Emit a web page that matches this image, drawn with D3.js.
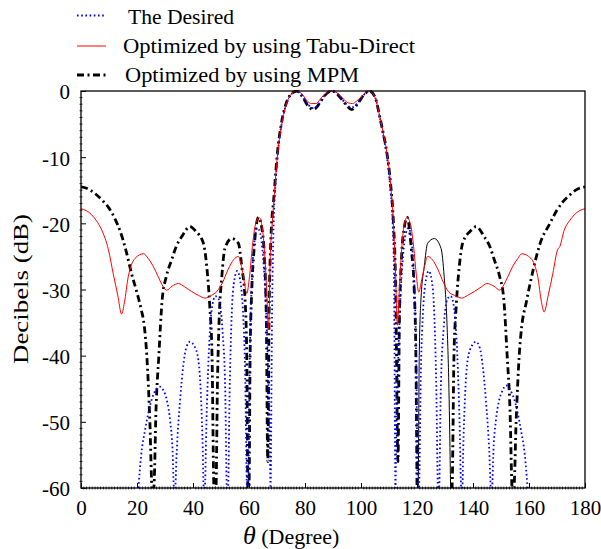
<!DOCTYPE html>
<html>
<head>
<meta charset="utf-8">
<script src="https://cdn.jsdelivr.net/npm/d3@7"></script>
<style>
  body { margin: 0; background: #fff; }
  svg text { font-family: "Liberation Serif", "DejaVu Serif", serif; fill: #000; }
</style>
</head>
<body>
<svg id="pattern" width="601" height="549"></svg>
<script>
"use strict";

/* chart data: [theta (deg), level (dB)] */
let desiredPts = [
  [20.5,-60],[21.5,-55],[22.9,-51.2],[25.2,-46.7],[27,-45],[28.2,-44.7],[29.5,-45.3],[30.8,-47],[31.8,-49.7],[32.7,-54.3],[33.2,-60],
  [33.6,-60],[34.2,-54.3],[35.4,-46.7],[36.5,-41.6],[37.6,-38.8],[38.9,-37.9],[40.4,-38.5],[41.9,-40.6],[42.9,-46.7],[43.5,-54.3],[43.8,-60],
  [44.2,-60],[44.8,-50],[45.6,-40],[46.7,-33],[48,-31],[49.2,-31.5],[50.5,-36],[51.5,-45],[52.1,-60],
  [52.5,-60],[53.1,-45],[53.9,-33],[54.8,-28.5],[55.8,-27.2],[56.8,-28.5],[57.8,-33],[58.6,-42],[59.3,-60],
  [59.7,-60],[60.3,-40],[61.2,-27],[62,-22.5],[63,-20.7],[64,-21.5],[65,-25],[66,-32],[66.8,-42],[67.4,-52],[67.7,-60],
  [68.2,-35],[68.8,-20],[69.5,-14],[70.5,-8.5],[72,-4.2],[73.5,-1.7],[75.5,-0.3],[77,0],[79,-0.8],[81,-2],[83,-2.6],[85,-1.9],[87,-0.7],
  [89.5,0],[92,-0.6],[94.5,-1.9],[96.7,-2.5],[98.7,-1.9],[101,-0.6],[103,0],[105,-0.9],[106.8,-4.2],[108,-6.8],[109.2,-9.8],[110.4,-14.5],
  [111.3,-20],[111.8,-28],[112.3,-60],
  [112.6,-52],[113.2,-42],[114,-32],[115,-25],[116,-21.5],[117,-20.7],[118,-22.5],[118.8,-27],[119.7,-40],[120.3,-60],
  [120.7,-60],[121.4,-42],[122.2,-33],[123.2,-28.5],[124.2,-27.2],[125.2,-28.5],[126.1,-33],[126.9,-45],[127.5,-60],
  [127.9,-60],[128.5,-45],[129.5,-36],[130.8,-31.5],[132,-31],[133.3,-33],[134.4,-40],[135.2,-50],[135.8,-60],
  [136.2,-60],[136.5,-54.3],[137.1,-46.7],[138.1,-40.6],[139.6,-38.5],[141,-37.9],[142.4,-38.8],[143.5,-41.6],[144.6,-46.7],[145.8,-54.3],[146.4,-60],
  [146.8,-60],[147.3,-54.3],[148.2,-49.7],[149.2,-47],[150.5,-45.3],[151.8,-44.5],[153,-45],[154.8,-46.7],[157.1,-51.2],[158.5,-55],[159.5,-60]
];

let tabuPts = [
  [0,-17.8],[2,-18.1],[3.8,-18.7],[5.5,-19.6],[7.4,-21],[9.8,-24],[11.5,-27.6],[13.1,-30.8],[14.5,-33.7],[15.5,-32],[16.9,-28],[18,-26.3],
  [19.3,-25.3],[22.3,-24.6],[24,-25.3],[25.8,-26.5],[27.5,-28],[29.4,-29.6],[30.6,-30.1],[32.5,-29.5],[34.8,-29.1],[37,-29.6],[39.5,-30.3],
  [42,-30.9],[44.3,-31.3],[46.5,-30.9],[48.5,-30.3],[50.5,-29],[52.5,-27],[54.5,-25.5],[56.2,-25],[57.3,-26.5],[58.2,-28.5],[59.2,-30.6],
  [60.2,-28],[61.2,-23.5],[62.4,-20],[63.6,-19.1],[64.6,-20.3],[65.5,-24],[66.3,-30],[67,-36],[67.6,-25],[68.3,-20],[68.9,-16.5],
  [70,-10.5],[71.7,-5],[73.5,-1.8],[75.5,-0.3],[77,0],[79,-0.5],[81,-1.6],[82.2,-1.9],[84,-1.9],[85.5,-1.2],[87.5,-0.3],[89.5,0],
  [91.5,-0.3],[93.5,-1.1],[95.5,-1.8],[97,-1.9],[98.5,-1.5],[100.5,-0.7],[102.5,0],[103.5,-0.1],[105,-1],[106.8,-4],[108,-6.5],
  [109.2,-9.2],[110.6,-14.2],[111.5,-19.2],[112.3,-27],[113,-35.4],[113.7,-30],[114.5,-24],[115.4,-20.3],[116.4,-19.1],[117.6,-20],
  [118.8,-23.5],[119.8,-28],[120.6,-30.4],[121.7,-28.5],[122.7,-26.5],[123.8,-25],[125.5,-25.5],[127.5,-27],[129.5,-29],[131.2,-30.3],
  [133.5,-30.9],[136,-31.3],[138,-30.9],[140.5,-30.3],[143,-29.6],[144.9,-29.1],[147.5,-29.5],[149.6,-30.1],[150.6,-29.6],[152.5,-28],
  [154.2,-26.5],[156,-25.3],[157.4,-24.6],[160.7,-25.3],[162,-26.3],[163.1,-28],[164.5,-32],[165.4,-33.4],[166.9,-30.8],[168.5,-27.6],
  [170.2,-24],[171,-23.5],[172.6,-21],[174.5,-19.6],[176.2,-18.7],[178,-18.1],[180,-17.8]
];

let mpmPts = [
  [0,-14.5],[2,-14.7],[5,-15.5],[8,-16.7],[10,-17.7],[12,-19.2],[14,-21.2],[16,-24],[18,-27.5],[20,-30.5],[21.5,-33],[22.6,-35.5],
  [23.5,-40],[24.6,-50],[25.4,-60],
  [26,-60],[26.8,-48],[27.8,-40],[29,-31.5],[30.5,-28],[32.4,-25.5],[34,-23.5],[36,-22],[38.9,-20.5],[41,-21.2],[43.7,-23],[44.9,-26.5],
  [46,-32.6],[46.8,-40],[47.5,-60],
  [48.2,-60],[48.7,-45],[49.3,-35],[50.3,-28],[51.4,-23.8],[53.8,-22.3],[56.2,-23],[57.4,-26.5],[58.6,-31.6],[59.2,-40],[59.6,-60],
  [60,-60],[60.4,-40],[61,-30],[61.8,-24],[63.4,-19.1],[64.5,-20.5],[65.5,-25],[66.2,-35],[66.7,-56],
  [67.2,-33],[67.8,-22.5],[68.9,-16],[70,-10],[71.7,-4.6],[73.5,-1.6],[75.5,-0.3],[77,0],[79,-0.8],[81,-2.2],[83,-2.8],[85,-2],[87,-0.7],
  [89.5,0],[92,-0.7],[94.5,-2],[96.7,-2.8],[98.7,-2],[101,-0.6],[103,0],[105,-0.9],[106.8,-4.1],[108,-6.5],[109.2,-9.2],[110.6,-14.2],
  [111.5,-19.2],[112.4,-30],[113.2,-56],
  [113.7,-35],[114.5,-25],[115.5,-20.5],[116.5,-19.1],[118,-24],[119,-30],[119.6,-40],[120,-60],
  [120.4,-60],[120.8,-40],[121.4,-31.6],[122.6,-26.5],[123.8,-23],[126.2,-22.3],[128.6,-23.8],[129.7,-28],[130.7,-35],[131.4,-45],[132,-60],
  [132.5,-60],[133.2,-40],[134,-32.6],[135.1,-26.5],[136.3,-23],[139,-21.2],[141.1,-20.5],[144,-22],[146,-23.5],[147.6,-25.5],[149.5,-28],
  [151,-31.5],[152.2,-40],[153.2,-48],[154,-60],
  [154.6,-60],[155.4,-50],[156.5,-40],[157.4,-35.6],[159,-32],[161.5,-27],[164,-23],[167.5,-20],[170,-18],[172,-16.8],[174.6,-15.7],
  [177,-14.9],[180,-14.5]
];

// the MPM lobe between these angles is printed as a thin solid line in the figure
let mpmThinRange = [120.2, 132.3];

let xTicks = [0, 20, 40, 60, 80, 100, 120, 140, 160, 180];
let yTicks = [0, -10, -20, -30, -40, -50, -60];
let legendLabels = ['The Desired', 'Optimized by using Tabu-Direct', 'Optimized by using MPM'];

/* layout */
let width = 601, height = 549;
let plot = {left: 81, right: 585, top: 91, bottom: 488};

let svg = d3.select('svg#pattern');

let xScale = d3.scaleLinear().domain([0, 180]).range([plot.left, plot.right]);
let yScale = d3.scaleLinear().domain([-60, 0]).range([plot.bottom, plot.top]);

svg.append('defs').append('clipPath')
  .attr('id', 'plot-clip')
  .append('rect')
  .attr('x', plot.left)
  .attr('y', plot.top - 1)
  .attr('width', plot.right - plot.left)
  .attr('height', plot.bottom - plot.top + 1);

/* minor ticks */
let minorX = d3.range(0, 181, 1).filter(d => d % 20 !== 0);
let minorY = d3.range(-60, 1, 1).filter(d => d % 10 !== 0);

svg.append('g').selectAll('line')
  .data(minorX)
  .enter()
  .append('line')
  .attr('x1', d => xScale(d)).attr('x2', d => xScale(d))
  .attr('y1', plot.bottom - 1.5).attr('y2', plot.bottom + 1.5)
  .attr('stroke', '#000').attr('stroke-width', 0.8);

svg.append('g').selectAll('line')
  .data(minorY)
  .enter()
  .append('line')
  .attr('y1', d => yScale(d)).attr('y2', d => yScale(d))
  .attr('x1', plot.left - 1.5).attr('x2', plot.left + 1.5)
  .attr('stroke', '#000').attr('stroke-width', 0.8);

/* axes with major ticks pointing inward */
let xAxis = svg.append('g')
  .attr('transform', `translate(0, ${plot.bottom})`)
  .call(d3.axisBottom(xScale).tickValues(xTicks).tickSizeInner(-5).tickSizeOuter(0).tickPadding(12).tickFormat(d3.format('d')));

let yAxis = svg.append('g')
  .attr('transform', `translate(${plot.left}, 0)`)
  .call(d3.axisLeft(yScale).tickValues(yTicks).tickSizeInner(-5).tickSizeOuter(0).tickPadding(11).tickFormat(d => d === 0 ? '0' : '-' + Math.abs(d)));

[xAxis, yAxis].forEach(a => {
  a.select('.domain').remove();
  a.selectAll('line').attr('stroke', '#000').attr('stroke-width', 1);
  a.selectAll('text')
    .style('font-family', '"Liberation Serif", serif')
    .style('font-size', '21px')
    .attr('fill', '#000');
});
yAxis.selectAll('text').attr('dy', '0.38em');

/* curves */
let line = d3.line()
  .x(d => xScale(d[0]))
  .y(d => yScale(d[1]))
  .curve(d3.curveMonotoneX);

let curves = svg.append('g').attr('clip-path', 'url(#plot-clip)');

let mpmMain = mpmPts.filter(d => d[0] <= mpmThinRange[0]);
let mpmThin = mpmPts.filter(d => d[0] >= mpmThinRange[0] - 0.3 && d[0] <= mpmThinRange[1]);
let mpmRest = mpmPts.filter(d => d[0] >= mpmThinRange[1] - 0.4);

[mpmMain, mpmRest].forEach(seg => {
  curves.append('path')
    .attr('d', line(seg))
    .attr('fill', 'none')
    .attr('stroke', '#000')
    .attr('stroke-width', 2.8)
    .attr('stroke-dasharray', '7,3.5,2,3.5');
});
curves.append('path')
  .attr('d', line(mpmThin))
  .attr('fill', 'none')
  .attr('stroke', '#000')
  .attr('stroke-width', 1);

curves.append('path')
  .attr('d', line(desiredPts))
  .attr('fill', 'none')
  .attr('stroke', '#0000ff')
  .attr('stroke-width', 1.8)
  .attr('stroke-dasharray', '1.6,2.6');

curves.append('path')
  .attr('d', line(tabuPts))
  .attr('fill', 'none')
  .attr('stroke', '#ff0000')
  .attr('stroke-width', 1);

/* frame */
svg.append('rect')
  .attr('x', plot.left)
  .attr('y', plot.top)
  .attr('width', plot.right - plot.left)
  .attr('height', plot.bottom - plot.top)
  .attr('fill', 'none')
  .attr('stroke', '#000')
  .attr('stroke-width', 1.3);

/* legend */
let legendStyles = [
  {stroke: '#0000ff', width: 1.8, dash: '1.6,2.6'},
  {stroke: '#ff0000', width: 1, dash: null},
  {stroke: '#000', width: 2.8, dash: '7,3.5,2,3.5'}
];
let legendRows = [
  {ly: 15.5, ty: 24, tx: 128, len: 106},
  {ly: 46, ty: 53, tx: 123, len: 292},
  {ly: 75, ty: 82, tx: 125, len: 234}
];

legendLabels.forEach((label, i) => {
  svg.append('line')
    .attr('x1', 77).attr('x2', 106)
    .attr('y1', legendRows[i].ly).attr('y2', legendRows[i].ly)
    .attr('stroke', legendStyles[i].stroke)
    .attr('stroke-width', legendStyles[i].width)
    .attr('stroke-dasharray', legendStyles[i].dash);
  svg.append('text')
    .attr('x', legendRows[i].tx)
    .attr('y', legendRows[i].ty)
    .attr('textLength', legendRows[i].len)
    .attr('lengthAdjust', 'spacingAndGlyphs')
    .style('font-size', '22px')
    .text(label);
});

/* axis labels */
let xLabel = svg.append('text')
  .attr('x', 243)
  .attr('y', 544)
  .style('font-size', '22px');
xLabel.append('tspan')
  .style('font-style', 'italic')
  .style('font-size', '26px')
  .text('θ');
xLabel.append('tspan')
  .text(' (Degree)');

svg.append('text')
  .attr('transform', 'translate(28, 289) rotate(-90)')
  .attr('text-anchor', 'middle')
  .attr('textLength', 150)
  .attr('lengthAdjust', 'spacingAndGlyphs')
  .style('font-size', '22px')
  .text('Decibels (dB)');
</script>
</body>
</html>
